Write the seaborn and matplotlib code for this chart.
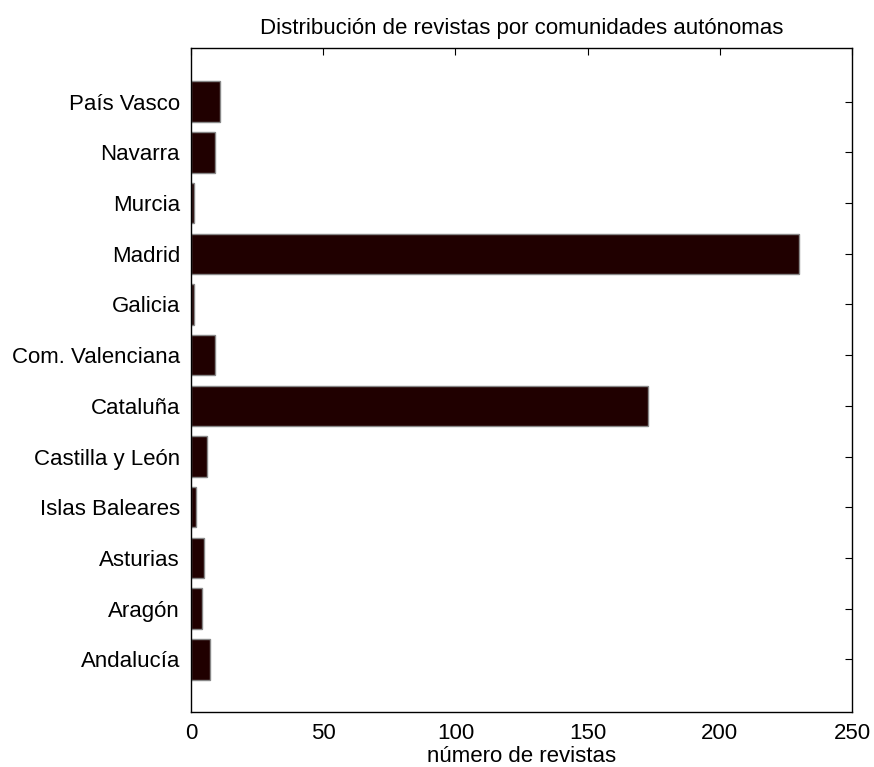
import pandas as pd
import matplotlib.pyplot as plt
import seaborn as sns

# data
regions = ['Andalucía', 'Aragón', 'Asturias', 'Islas Baleares', 'Castilla y León',
           'Cataluña', 'Com. Valenciana', 'Galicia', 'Madrid', 'Murcia',
           'Navarra', 'País Vasco']
counts = [7, 4, 5, 2, 6, 173, 9, 1, 230, 1, 9, 11]

# top to bottom order for seaborn's categorical axis
df = pd.DataFrame({'region': regions[::-1], 'n': counts[::-1]})

sns.set_style('white')
plt.rcParams['font.family'] = ['Liberation Sans', 'DejaVu Sans']
plt.rcParams['text.color'] = 'black'
plt.rcParams['axes.labelcolor'] = 'black'
plt.rcParams['xtick.color'] = 'black'
plt.rcParams['ytick.color'] = 'black'

fig = plt.figure(figsize=(8.74, 7.67), dpi=100)
ax = fig.add_axes([191 / 874, 1 - 712 / 767, 661 / 874, 664 / 767])

sns.barplot(data=df, x='n', y='region', orient='h', color='#200000',
            saturation=1, width=0.8, edgecolor='#888888', linewidth=1, ax=ax)

ax.set_xlim(0, 250)
ax.set_ylim(11.5 + 0.5 * 1.08, -1.06)
ax.set_xticks([0, 50, 100, 150, 200, 250])
ax.tick_params(axis='both', direction='in', top=True, right=True, length=5,
               width=0.8, labelsize=16)
ax.tick_params(axis='x', pad=8)
ax.tick_params(axis='y', pad=8)
for s in ax.spines.values():
    s.set_visible(True)
    s.set_color('black')
    s.set_linewidth(1)

ax.set_ylabel('')
ax.set_xlabel('número de revistas', fontsize=16, labelpad=1)
ax.set_title('Distribución de revistas por comunidades autónomas', fontsize=16, pad=10)

plt.savefig('out.png', dpi=100)
